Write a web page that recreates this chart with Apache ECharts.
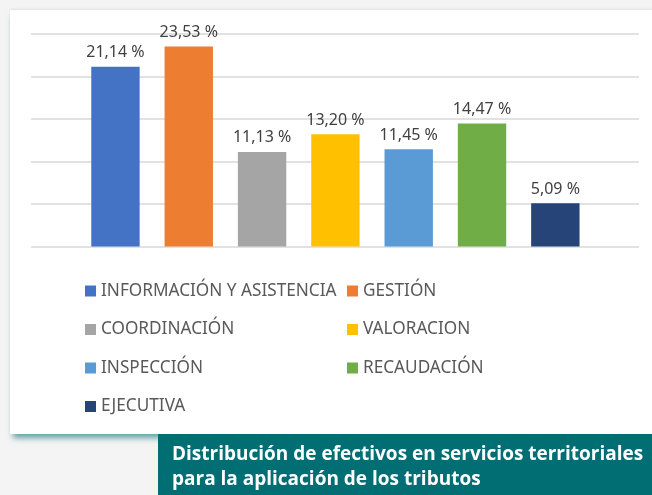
<!DOCTYPE html>
<html><head><meta charset="utf-8">
<script src="https://cdn.jsdelivr.net/npm/echarts@6/dist/echarts.min.js"></script>
<style>
html,body{margin:0;padding:0;background:#f4f4f4;width:652px;height:495px;overflow:hidden;}
#card{position:absolute;left:10px;top:10px;width:642px;height:424px;background:#fff;box-shadow:2px 5px 6px -1px rgba(0,105,112,0.6), 0 -1px 2px rgba(0,0,0,0.08);}
#chart{position:absolute;left:0;top:0;width:652px;height:495px;}
</style></head>
<body>
<div id="card"></div>
<div id="chart"></div>
<script>
const categories = ['INFORMACIÓN Y ASISTENCIA','GESTIÓN','COORDINACIÓN','VALORACION','INSPECCIÓN','RECAUDACIÓN','EJECUTIVA'];
const values = [21.14, 23.53, 11.13, 13.20, 11.45, 14.47, 5.09];
const colors = ['#4472C4','#ED7D31','#A5A5A5','#FFC000','#5B9BD5','#70AD47','#264478'];
const legendCol1 = ['INFORMACIÓN Y ASISTENCIA','COORDINACIÓN','INSPECCIÓN','EJECUTIVA'];
const legendCol2 = ['GESTIÓN','VALORACION','RECAUDACIÓN'];
const caption = 'Distribución de efectivos en servicios territoriales\npara la aplicación de los tributos';

const FONT = '"Noto Sans", sans-serif';
const chart = echarts.init(document.getElementById('chart'), null, {renderer:'canvas'});
const series = categories.map((c, i) => ({
  name: c, type: 'bar', stack: 'all', xAxisIndex: 0, yAxisIndex: 0,
  barCategoryGap: '34%',
  itemStyle: {color: colors[i]},
  data: categories.map((_, j) => j === i ? values[i] : null),
  label: {show: true, position: 'top', distance: 6, color: '#404040', fontFamily: FONT, fontSize: 16,
    formatter: p => p.value.toFixed(2).replace('.', ',') + ' %'}
}));
const legendBase = {orient:'vertical', icon:'rect', itemWidth:11, itemHeight:11, itemGap:18.5,
  textStyle:{color:'#595959', fontFamily:FONT, fontSize:17.2, lineHeight:20}, selectedMode:false};
chart.setOption({
  animation: false,
  grid: [
    {left: 78.8, right: 60, top: 34, height: 212.5},
    {left: 31, right: 13, top: 34, height: 212.5}
  ],
  xAxis: [
    {type:'category', gridIndex:0, data: categories, axisLine:{show:false}, axisTick:{show:false}, axisLabel:{show:false}},
    {type:'category', gridIndex:1, data: [''], axisLine:{show:false}, axisTick:{show:false}, axisLabel:{show:false}}
  ],
  yAxis: [
    {type:'value', gridIndex:0, min:0, max:25, interval:5, axisLabel:{show:false}, splitLine:{show:false}, axisLine:{show:false}},
    {type:'value', gridIndex:1, min:0, max:25, interval:5, axisLabel:{show:false}, axisLine:{show:false},
      splitLine:{show:true, lineStyle:{color:'#d9d9d9', width:1.5}}}
  ],
  legend: [
    Object.assign({left: 80, top: 276, data: legendCol1}, legendBase),
    Object.assign({left: 342, top: 276, data: legendCol2}, legendBase)
  ],
  series: series,
  graphic: [
    {type:'rect', left:158, top:434, shape:{width:494, height:61}, style:{fill:'#006E73'}, z:10},
    {type:'text', left:172, top:442, z:11, style:{text: caption, fill:'#fff', font:'bold 19px "Open Sans", sans-serif', lineHeight:25}}
  ]
});
</script>
</body></html>
